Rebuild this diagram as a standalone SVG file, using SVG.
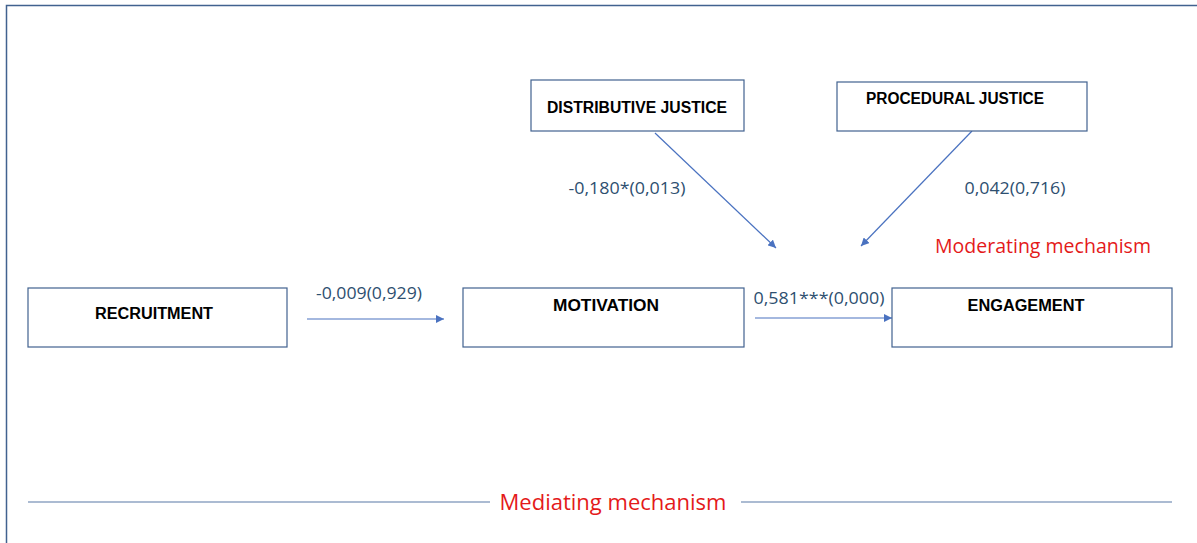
<svg xmlns="http://www.w3.org/2000/svg" width="1197" height="543" viewBox="0 0 1197 543">
<style>
.box{fill:#fff;stroke:#41628f;stroke-width:1.2}
.nl{font-family:"Liberation Sans",Arial,sans-serif;font-weight:bold;font-size:16px;fill:#000;text-anchor:middle}
.el{font-family:"Open Sans","Liberation Sans",sans-serif;font-size:16px;fill:#2e4f70;text-anchor:middle}
.red{font-family:"Open Sans","Liberation Sans",sans-serif;fill:#e41a1a;text-anchor:middle}
.ed{stroke:#4a72c0;stroke-width:1.2;fill:none;marker-end:url(#ah)}
</style>
<defs>
<marker id="ah" viewBox="0 0 10 10" refX="10" refY="5" markerWidth="8" markerHeight="8" markerUnits="userSpaceOnUse" orient="auto">
<path d="M0,0 L10,5 L0,10 z" fill="#4a72c0"/>
</marker>
</defs>
<rect width="1197" height="543" fill="#fff"/>
<rect x="6.5" y="5.5" width="1200" height="560" fill="none" stroke="#41628f" stroke-width="1.5"/>
<g id="connectors">
<line class="ed" x1="307" y1="319" x2="444" y2="319"/>
<line class="ed" x1="755" y1="318" x2="892" y2="318"/>
<line class="ed" x1="655" y1="133" x2="776" y2="248"/>
<line class="ed" x1="972" y1="131" x2="861" y2="246"/>
<text class="el" x="369" y="299" textLength="106" lengthAdjust="spacingAndGlyphs">-0,009(0,929)</text>
<text class="el" x="819" y="304" textLength="131" lengthAdjust="spacingAndGlyphs">0,581***(0,000)</text>
<text class="el" x="627" y="194" textLength="117" lengthAdjust="spacingAndGlyphs">-0,180*(0,013)</text>
<text class="el" x="1015" y="194" textLength="101" lengthAdjust="spacingAndGlyphs">0,042(0,716)</text>
</g>
<g id="distributive">
<rect class="box" x="531" y="80" width="213" height="51"/>
<text class="nl" x="637" y="113" textLength="180" lengthAdjust="spacingAndGlyphs">DISTRIBUTIVE JUSTICE</text>
</g>
<g id="procedural">
<rect class="box" x="837" y="82" width="250" height="49"/>
<text class="nl" x="955" y="104" textLength="178" lengthAdjust="spacingAndGlyphs">PROCEDURAL JUSTICE</text>
</g>
<g id="recruitment">
<rect class="box" x="28" y="288" width="259" height="59"/>
<text class="nl" x="154" y="319" textLength="118" lengthAdjust="spacingAndGlyphs">RECRUITMENT</text>
</g>
<g id="motivation">
<rect class="box" x="463" y="288" width="281" height="59"/>
<text class="nl" x="606" y="311" textLength="106" lengthAdjust="spacingAndGlyphs">MOTIVATION</text>
</g>
<g id="engagement">
<rect class="box" x="892" y="288" width="280" height="59"/>
<text class="nl" x="1026" y="311" textLength="117" lengthAdjust="spacingAndGlyphs">ENGAGEMENT</text>
</g>
<g id="moderating">
<text class="red" x="1043" y="253" font-size="20" textLength="216" lengthAdjust="spacingAndGlyphs">Moderating mechanism</text>
</g>
<g id="mediating">
<line x1="28" y1="502" x2="490" y2="502" stroke="#8fa5c3" stroke-width="1.5"/>
<line x1="741" y1="502" x2="1172" y2="502" stroke="#8fa5c3" stroke-width="1.5"/>
<text class="red" x="613" y="510" font-size="22" textLength="227" lengthAdjust="spacingAndGlyphs">Mediating mechanism</text>
</g>
</svg>
